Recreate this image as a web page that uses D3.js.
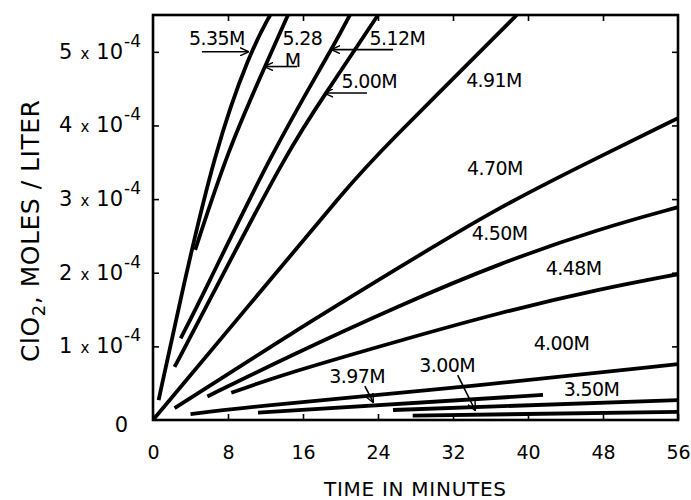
<!DOCTYPE html>
<html>
<head>
<meta charset="utf-8">
<script src="https://cdn.jsdelivr.net/npm/d3@7"></script>
<style>
  body { margin: 0; background: #fff; }
  text { font-family: "DejaVu Sans", sans-serif; fill: #000; }
</style>
</head>
<body>
<script>
// ClO2 concentration (units of 1e-4 mol/L) vs time (min), one array per HCl molarity
const c535 = [[0.6, 0.27], [2.9, 1.63], [6.6, 3.67], [10.35, 5.0], [12.5, 5.5]];
const c528 = [[4.5, 2.31], [8.0, 3.67], [11.95, 4.8], [14.4, 5.5]];
const c512 = [[2.95, 1.11], [5.15, 1.65], [12.8, 3.67], [19.1, 5.04], [21.0, 5.5]];
const c500 = [[2.3, 0.72], [6.05, 1.63], [14.4, 3.67], [18.56, 4.46], [24.0, 5.5]];
const c491 = [[0, 0], [10.85, 1.65], [21, 3.2], [24, 3.62], [38.8, 5.5]];
const c470 = [[2.3, 0.16], [14.4, 1.15], [26.35, 2.08], [37, 2.9], [47.7, 3.58], [56, 4.1]];
const c450 = [[5.8, 0.32], [14.4, 0.86], [26.35, 1.56], [37, 2.13], [47.7, 2.6], [56, 2.89]];
const c448 = [[8.35, 0.37], [14.4, 0.64], [26.35, 1.08], [37, 1.46], [47.7, 1.78], [56, 1.98]];
const c400 = [[4, 0.08], [10.35, 0.18], [35.2, 0.47], [56, 0.76]];
const c397 = [[11.2, 0.10], [41.6, 0.34]];
const c350 = [[25.6, 0.136], [56, 0.27]];
const c300 = [[27.7, 0.06], [56, 0.11]];

const curves = [c535, c528, c512, c500, c491, c470, c450, c448, c400, c397, c350, c300];

const xTicks = [0, 8, 16, 24, 32, 40, 48, 56];
const yTicks = [1, 2, 3, 4, 5];

// curve labels: text, time, conc (baseline-left)
const labelText = ["5.35M", "5.28", "M", "5.12M", "5.00M", "4.91M", "4.70M", "4.50M", "4.48M", "4.00M", "3.97M", "3.00M", "3.50M"];
const labelT = [3.85, 13.8, 14.05, 23.1, 20.1, 33.4, 33.5, 34.0, 41.9, 40.6, 18.8, 28.4, 43.8];
const labelC = [5.095, 5.095, 4.79, 5.095, 4.51, 4.52, 3.33, 2.45, 1.97, 0.95, 0.50, 0.65, 0.33];

// pointer arrows: [t0, c0, t1, c1], tip at (t1, c1)
const arrows = [
  [5.23, 5.0, 10.13, 5.0],
  [15.36, 4.8, 11.95, 4.8],
  [25.6, 5.03, 19.1, 5.03],
  [22.83, 4.44, 18.35, 4.44],
  [22.6, 0.46, 23.47, 0.245],
  [32.5, 0.61, 34.35, 0.136]
];

const W = 691, H = 500;
const svg = d3.select("body").append("svg").attr("width", W).attr("height", H);

const x = d3.scaleLinear().domain([0, 56]).range([153, 678]);
const y = d3.scaleLinear().domain([0, 5.5]).range([420, 15]);

const defs = svg.append("defs");
defs.append("clipPath").attr("id", "plot")
  .append("rect")
  .attr("x", x(0)).attr("y", y(5.5))
  .attr("width", x(56) - x(0)).attr("height", y(0) - y(5.5));

defs.append("marker")
  .attr("id", "head")
  .attr("viewBox", "0 -5 10 10")
  .attr("refX", 9).attr("refY", 0)
  .attr("markerWidth", 9).attr("markerHeight", 9)
  .attr("markerUnits", "userSpaceOnUse")
  .attr("orient", "auto")
  .append("path")
  .attr("d", "M0,-4.5L10,0L0,4.5")
  .attr("fill", "none")
  .attr("stroke", "#000")
  .attr("stroke-width", 1.6);

// ticks on all four sides, pointing inward
svg.append("g").attr("transform", `translate(0,${y(0)})`)
  .call(d3.axisBottom(x).tickValues(xTicks).tickSize(-6).tickPadding(26))
  .call(g => g.select(".domain").remove())
  .call(g => g.selectAll("text").attr("font-size", 19).attr("font-family", "DejaVu Sans"));

svg.append("g").attr("transform", `translate(0,${y(5.5)})`)
  .call(d3.axisTop(x).tickValues(xTicks.slice(1, -1)).tickSize(-6).tickFormat(""))
  .call(g => g.select(".domain").remove());

svg.append("g").attr("transform", `translate(${x(0)},0)`)
  .call(d3.axisLeft(y).tickValues(yTicks).tickSize(-6).tickFormat(""))
  .call(g => g.select(".domain").remove());

svg.append("g").attr("transform", `translate(${x(56)},0)`)
  .call(d3.axisRight(y).tickValues(yTicks).tickSize(-6).tickFormat(""))
  .call(g => g.select(".domain").remove());

svg.selectAll(".tick line").attr("stroke", "#000").attr("stroke-width", 1.6);

// y tick labels  "n x 10^-4"
const yl = svg.append("g").selectAll("text").data(yTicks).join("text")
  .attr("x", 141)
  .attr("y", d => y(d) + 7)
  .attr("text-anchor", "end")
  .attr("font-size", 21);
yl.append("tspan").text(d => d);
yl.append("tspan").attr("font-size", 15).attr("dx", 8).text("x");
yl.append("tspan").attr("dx", 7).text("10");
yl.append("tspan").attr("font-size", 17).attr("dy", -12).attr("dx", 1).text("-4");

svg.append("text")
  .attr("x", 128).attr("y", y(0) + 12)
  .attr("text-anchor", "end")
  .attr("font-size", 21)
  .text("0");

// curves
const line = d3.line()
  .x(d => x(d[0]))
  .y(d => y(d[1]))
  .curve(d3.curveBasis);

svg.append("g").attr("clip-path", "url(#plot)")
  .selectAll("path").data(curves).join("path")
  .attr("d", line)
  .attr("fill", "none")
  .attr("stroke", "#000")
  .attr("stroke-width", 3.8)
  .attr("stroke-linecap", "butt");

// frame
svg.append("rect")
  .attr("x", x(0)).attr("y", y(5.5))
  .attr("width", x(56) - x(0)).attr("height", y(0) - y(5.5))
  .attr("fill", "none")
  .attr("stroke", "#000")
  .attr("stroke-width", 2.6);

// curve labels
svg.append("g").selectAll("text").data(labelText).join("text")
  .attr("x", (d, i) => x(labelT[i]))
  .attr("y", (d, i) => y(labelC[i]))
  .attr("font-size", 19)
  .attr("letter-spacing", -0.6)
  .text(d => d);

svg.append("g").selectAll("line").data(arrows).join("line")
  .attr("x1", d => x(d[0])).attr("y1", d => y(d[1]))
  .attr("x2", d => x(d[2])).attr("y2", d => y(d[3]))
  .attr("stroke", "#000")
  .attr("stroke-width", 1.6)
  .attr("marker-end", "url(#head)");

// axis titles
svg.append("text")
  .attr("x", 415).attr("y", 496)
  .attr("text-anchor", "middle")
  .attr("font-size", 20)
  .attr("textLength", 182)
  .attr("lengthAdjust", "spacing")
  .text("TIME IN MINUTES");

const yt = svg.append("text")
  .attr("transform", "translate(39,231) rotate(-90)")
  .attr("text-anchor", "middle")
  .attr("font-size", 25)
  .attr("textLength", 262)
  .attr("lengthAdjust", "spacing");
yt.append("tspan").text("ClO");
yt.append("tspan").attr("font-size", 18).attr("dy", 6).text("2");
yt.append("tspan").attr("dy", -6).text(", MOLES / LITER");
</script>
</body>
</html>
